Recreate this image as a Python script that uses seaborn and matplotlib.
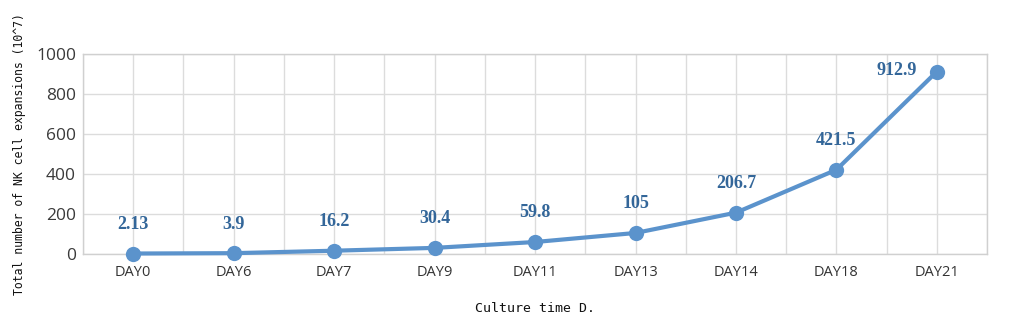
import matplotlib
matplotlib.use("Agg")
import matplotlib.pyplot as plt
import seaborn as sns
import pandas as pd
import numpy as np

days = ["DAY0", "DAY6", "DAY7", "DAY9", "DAY11", "DAY13", "DAY14", "DAY18", "DAY21"]
values = [2.13, 3.9, 16.2, 30.4, 59.8, 105, 206.7, 421.5, 912.9]
value_labels = ["2.13", "3.9", "16.2", "30.4", "59.8", "105", "206.7", "421.5", "912.9"]
y_ticks = [0, 200, 400, 600, 800, 1000]

sns.set_style("white")
df = pd.DataFrame({"day": days, "value": values})

fig = plt.figure(figsize=(10.24, 3.26), dpi=100)
ax = fig.add_axes([0.081, 0.221, 0.883, 0.613])

line_color = "#5b93cc"
label_color = "#336699"

sns.lineplot(data=df, x="day", y="value", ax=ax, color=line_color, linewidth=3,
             marker="o", markersize=11, markeredgewidth=0, clip_on=False, zorder=3)

n = len(days)
ax.set_xlim(-0.5, n - 0.5)
ax.set_ylim(0, 1000)
ax.set_xticks(range(n))
ax.set_xticklabels(days, fontsize=10.5, color="#333333", family="Open Sans")
ax.set_yticks(y_ticks)
ax.set_yticklabels([str(t) for t in y_ticks], fontsize=12.5, color="#3a3a3a", family="Open Sans")
ax.tick_params(axis="both", length=0)
ax.tick_params(axis="x", pad=8)
ax.tick_params(axis="y", pad=5)

for xg in np.arange(-0.5, n, 0.5):
    ax.axvline(xg, color="#dcdcdc", linewidth=1, zorder=0)
for yg in y_ticks:
    ax.axhline(yg, color="#dcdcdc", linewidth=1, zorder=0)
for s in ax.spines.values():
    s.set_color("#d0d0d0")
    s.set_linewidth(1)

for i, (v, lab) in enumerate(zip(values, value_labels)):
    if i == n - 1:
        ax.annotate(lab, (i, v), xytext=(-29, 1), textcoords="offset points",
                    ha="center", va="center", fontsize=13, fontweight="bold",
                    family="Liberation Serif", color=label_color)
    else:
        ax.annotate(lab, (i, v), xytext=(0, 21), textcoords="offset points",
                    ha="center", va="center", fontsize=13, fontweight="bold",
                    family="Liberation Serif", color=label_color)

ax.set_xlabel("Culture time D.", fontsize=9.5, family="DejaVu Sans Mono", color="#111111", labelpad=16)
ax.set_ylabel("Total number of NK cell expansions (10^7)", fontsize=8.3,
              family="DejaVu Sans Mono", color="#111111", labelpad=7)

fig.savefig("out.png", dpi=100, facecolor="white")
